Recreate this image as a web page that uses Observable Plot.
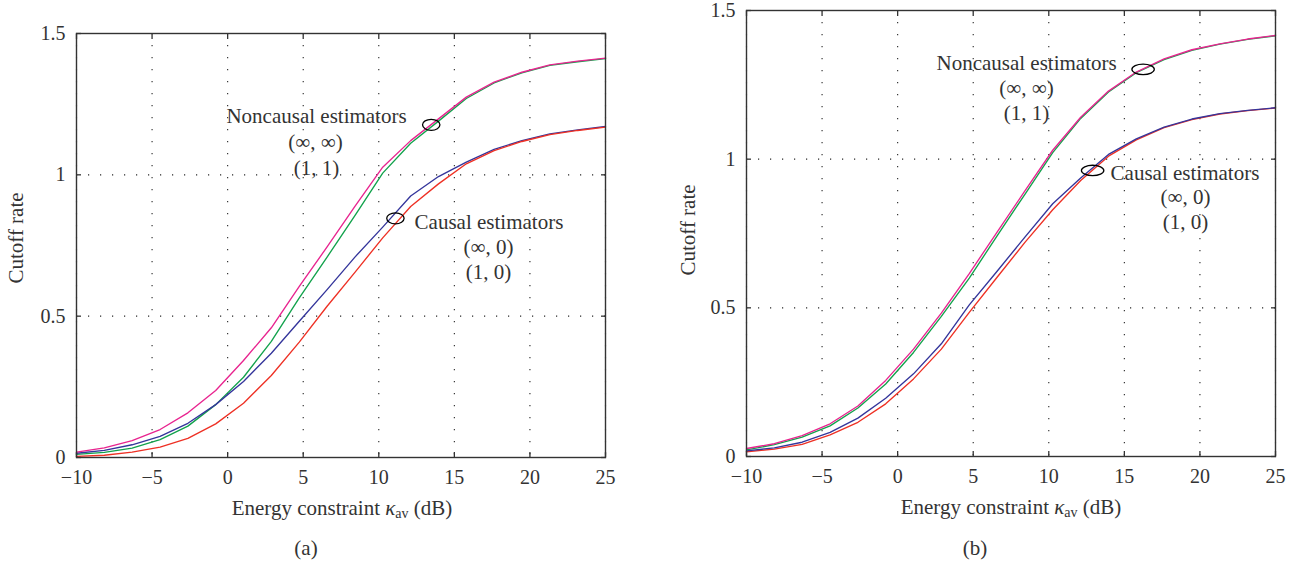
<!DOCTYPE html>
<html><head><meta charset="utf-8">
<script src="https://cdn.jsdelivr.net/npm/d3@7"></script>
<script src="https://cdn.jsdelivr.net/npm/@observablehq/plot@0.6"></script>
<style>
html,body{margin:0;padding:0;background:#fff;}
#wrap{position:relative;width:1306px;height:567px;overflow:hidden;background:#fff;}
#wrap svg{position:absolute;top:0;}
</style></head><body><div id="wrap"></div>
<script>
// ---- data ----
const kappa = [-10, -8.16, -6.32, -4.47, -2.63, -0.79, 1.05, 2.89, 4.74, 6.58, 8.42, 10.26, 12.11, 13.95, 15.79, 17.63, 19.47, 21.32, 23.16, 25];
const xTicks = [-10, -5, 0, 5, 10, 15, 20, 25];
const yTicks = [0, 0.5, 1, 1.5];

// panel (a)
const aMagenta = [0.019, 0.034, 0.060, 0.099, 0.158, 0.237, 0.343, 0.459, 0.605, 0.745, 0.888, 1.027, 1.121, 1.198, 1.275, 1.328, 1.363, 1.389, 1.402, 1.413];
const aGreen   = [0.011, 0.018, 0.033, 0.063, 0.111, 0.187, 0.284, 0.411, 0.565, 0.709, 0.856, 1.006, 1.112, 1.190, 1.270, 1.325, 1.361, 1.387, 1.400, 1.411];
const aBlue    = [0.015, 0.025, 0.045, 0.075, 0.121, 0.187, 0.269, 0.369, 0.482, 0.594, 0.709, 0.815, 0.925, 0.994, 1.045, 1.090, 1.121, 1.145, 1.159, 1.171];
const aRed     = [0.004, 0.008, 0.019, 0.037, 0.068, 0.119, 0.192, 0.290, 0.408, 0.535, 0.655, 0.777, 0.888, 0.968, 1.039, 1.086, 1.118, 1.142, 1.157, 1.169];

// panel (b)
const bMagenta = [0.027, 0.043, 0.070, 0.110, 0.170, 0.256, 0.361, 0.482, 0.615, 0.755, 0.893, 1.030, 1.141, 1.229, 1.293, 1.337, 1.368, 1.388, 1.404, 1.416];
const bGreen   = [0.022, 0.040, 0.065, 0.103, 0.163, 0.244, 0.350, 0.471, 0.600, 0.742, 0.882, 1.022, 1.137, 1.226, 1.291, 1.335, 1.366, 1.387, 1.403, 1.415];
const bBlue    = [0.019, 0.029, 0.048, 0.081, 0.129, 0.196, 0.278, 0.379, 0.510, 0.623, 0.738, 0.850, 0.937, 1.016, 1.068, 1.108, 1.135, 1.153, 1.164, 1.173];
const bRed     = [0.016, 0.025, 0.041, 0.073, 0.115, 0.177, 0.261, 0.361, 0.485, 0.603, 0.720, 0.830, 0.928, 1.010, 1.065, 1.106, 1.133, 1.152, 1.163, 1.172];

// annotations
const annoText = ["Noncausal estimators", "(\u221E, \u221E)", "(1, 1)", "Causal estimators", "(\u221E, 0)", "(1, 0)"];
const aAnnoX = [5.88, 5.81, 5.88, 17.29, 17.26, 17.26];
const aAnnoY = [1.206, 1.114, 1.022, 0.831, 0.743, 0.654];
const bAnnoX = [8.53, 8.53, 8.53, 19.01, 19.05, 19.05];
const bAnnoY = [1.322, 1.238, 1.154, 0.953, 0.871, 0.787];
const aEllX = [13.47, 11.1], aEllY = [1.177, 0.846];
const bEllX = [16.24, 12.9], bEllY = [1.302, 0.962];

const captions = ["(a)", "(b)"];
const yLabel = "Cutoff rate";

// ---- styles ----
const FONT = "'Liberation Serif', 'DejaVu Serif', serif";
const TEXT = "#333";
const colors = {magenta: "#e8248f", green: "#12a24c", blue: "#34359b", red: "#ee3024"};
const yFmt = d3.format("~g");

function ellipseSymbol(rx, ry) {
  const k = 0.5523;
  return {draw(ctx) {
    ctx.moveTo(rx, 0);
    ctx.bezierCurveTo(rx, k * ry, k * rx, ry, 0, ry);
    ctx.bezierCurveTo(-k * rx, ry, -rx, k * ry, -rx, 0);
    ctx.bezierCurveTo(-rx, -k * ry, -k * rx, -ry, 0, -ry);
    ctx.bezierCurveTo(k * rx, -ry, rx, -k * ry, rx, 0);
    ctx.closePath();
  }};
}

function makePanel(cfg) {
  const lineMarks = cfg.order.map(name => {
    const vals = cfg.series[name];
    const rows = kappa.map((k, i) => ({k, v: vals[i]}));
    return Plot.line(rows, {x: "k", y: "v", stroke: colors[name], strokeWidth: 1.35});
  });
  const anno = annoText.map((t, i) => ({t, x: cfg.annoX[i], y: cfg.annoY[i]}));
  const ell = cfg.ellX.map((x, i) => ({x, y: cfg.ellY[i]}));
  const plot = Plot.plot({
    width: 653, height: 567,
    marginLeft: cfg.ml, marginRight: cfg.mr, marginTop: cfg.mt, marginBottom: cfg.mb,
    x: {domain: [-10, 25]},
    y: {domain: [0, 1.5]},
    style: {fontFamily: FONT, fontSize: "20px", color: TEXT, background: "transparent", overflow: "visible"},
    marks: [
      Plot.gridX(xTicks, {stroke: "#000", strokeOpacity: 0.85, strokeWidth: 1.1, strokeDasharray: "1.2,10.8"}),
      Plot.gridY(yTicks, {stroke: "#000", strokeOpacity: 0.85, strokeWidth: 1.1, strokeDasharray: "1.2,10.8"}),
      ...lineMarks,
      Plot.frame({stroke: "#333", strokeWidth: 1.4}),
      Plot.axisX(xTicks, {anchor: "bottom", tickSize: -5, tickPadding: 17, label: null, stroke: "#333", fill: TEXT, fontSize: 20, strokeWidth: 1.3}),
      Plot.axisX(xTicks, {anchor: "top", tickSize: -5, tickFormat: () => "", label: null, stroke: "#333", strokeWidth: 1.3}),
      Plot.axisY(yTicks, {anchor: "left", tickSize: -5, tickPadding: 16, tickFormat: yFmt, label: null, stroke: "#333", fill: TEXT, fontSize: 20, strokeWidth: 1.3}),
      Plot.axisY(yTicks, {anchor: "right", tickSize: -5, tickFormat: () => "", label: null, stroke: "#333", strokeWidth: 1.3}),
      Plot.text(anno, {x: "x", y: "y", text: "t", fontSize: 21, fill: TEXT, textAnchor: "middle", fontFamily: FONT}),
      Plot.dot(ell, {x: "x", y: "y", symbol: ellipseSymbol(cfg.rx, cfg.ry), stroke: "#000", fill: "none", strokeWidth: 1.3})
    ]
  });
  plot.style.left = cfg.left + "px";
  const svg = d3.select(plot);
  const xl = svg.append("text")
    .attr("x", cfg.xLabelX).attr("y", cfg.xLabelY)
    .attr("text-anchor", "middle").attr("fill", TEXT)
    .style("font-family", FONT).style("font-size", "21px");
  xl.append("tspan").text("Energy constraint ");
  xl.append("tspan").attr("font-style", "italic").text("\u03BA");
  xl.append("tspan").attr("font-size", "14px").attr("dy", "3").text("av");
  xl.append("tspan").attr("dy", "-3").text(" (dB)");
  svg.append("text")
    .attr("transform", `translate(${cfg.yLabelX},${cfg.yLabelY}) rotate(-90)`)
    .attr("text-anchor", "middle").attr("fill", TEXT)
    .style("font-family", FONT).style("font-size", "21px")
    .text(yLabel);
  svg.append("text")
    .attr("x", cfg.capX).attr("y", cfg.capY)
    .attr("text-anchor", "middle").attr("fill", TEXT)
    .style("font-family", FONT).style("font-size", "21px")
    .text(cfg.caption);
  document.getElementById("wrap").appendChild(plot);
}

makePanel({
  left: 0, ml: 76, mr: 48, mt: 33, mb: 110,
  series: {magenta: aMagenta, green: aGreen, blue: aBlue, red: aRed},
  order: ["green", "blue", "red", "magenta"],
  annoX: aAnnoX, annoY: aAnnoY, ellX: aEllX, ellY: aEllY, rx: 8.7, ry: 5.5,
  xLabelX: 342, xLabelY: 515, yLabelX: 23, yLabelY: 238,
  capX: 306, capY: 555, caption: captions[0]
});
makePanel({
  left: 653, ml: 93, mr: 31, mt: 10, mb: 111,
  series: {magenta: bMagenta, green: bGreen, blue: bBlue, red: bRed},
  order: ["green", "red", "blue", "magenta"],
  annoX: bAnnoX, annoY: bAnnoY, ellX: bEllX, ellY: bEllY, rx: 11.2, ry: 5.2,
  xLabelX: 1011 - 653, xLabelY: 514, yLabelX: 695 - 653, yLabelY: 230,
  capX: 975 - 653, capY: 555, caption: captions[1]
});
</script>
</body></html>
